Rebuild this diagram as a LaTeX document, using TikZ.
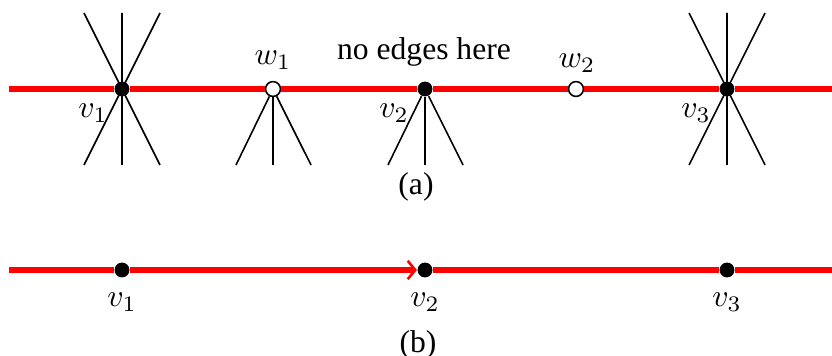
\documentclass[tikz,border=0pt]{standalone}
\usepackage[no-math]{fontspec}
\setmainfont{Liberation Serif}
\usetikzlibrary{arrows.meta}
\begin{document}
\begin{tikzpicture}[x=0.3165pt,y=-0.3165pt,
  font=\fontsize{10}{12}\selectfont,
  redline/.style={draw=red, line width=1.6pt},
  spoke/.style={draw=black, line width=0.5pt},
  bdot/.style={circle, fill=black, inner sep=0pt, minimum size=4.7pt},
  wdot/.style={circle, draw=black, fill=white, line width=0.5pt, inner sep=0pt, minimum size=4.7pt},
  lbl/.style={inner sep=0pt}]
\useasboundingbox (0,0) rectangle (832,356);
% ---------- (a) ----------
\coordinate (La) at (9,89);
\coordinate (Ra) at (832,89);
\node[bdot] (v1) at (122,89) {};
\node[wdot] (w1) at (273,89) {};
\node[bdot] (v2) at (425,89) {};
\node[wdot] (w2) at (576,89) {};
\node[bdot] (v3) at (727,89) {};
\draw[redline] (La) -- (v1) -- (w1) -- (v2) -- (w2) -- (v3) -- (Ra);
% spokes at v1
\coordinate (v1a) at (84,13); \coordinate (v1b) at (160,165);
\coordinate (v1c) at (160,13); \coordinate (v1d) at (84,165);
\coordinate (v1e) at (122,13); \coordinate (v1f) at (122,165);
\draw[spoke] (v1a) -- (v1b) (v1c) -- (v1d) (v1e) -- (v1f);
% spokes at v3
\coordinate (v3a) at (689,13); \coordinate (v3b) at (765,165);
\coordinate (v3c) at (765,13); \coordinate (v3d) at (689,165);
\coordinate (v3e) at (727,13); \coordinate (v3f) at (727,165);
\draw[spoke] (v3a) -- (v3b) (v3c) -- (v3d) (v3e) -- (v3f);
% spokes at w1
\coordinate (w1a) at (236,165); \coordinate (w1b) at (273,165); \coordinate (w1c) at (311,165);
\draw[spoke] (w1) -- (w1a) (w1) -- (w1b) (w1) -- (w1c);
% spokes at v2
\coordinate (v2a) at (388,165); \coordinate (v2b) at (425,165); \coordinate (v2c) at (463,165);
\draw[spoke] (v2) -- (v2a) (v2) -- (v2b) (v2) -- (v2c);
% labels
\node[lbl] (lv1) at (93,113) {$v_1$};
\node[lbl] (lw1) at (273,60) {$w_1$};
\node[lbl] (lv2) at (394,113) {$v_2$};
\node[lbl] (lw2) at (577,63) {$w_2$};
\node[lbl] (lv3) at (696,113) {$v_3$};
\node[lbl] (note) at (424,52) {no edges here};
\node[lbl] (capa) at (416,187) {(a)};
% ---------- (b) ----------
\coordinate (Lb) at (9,270);
\coordinate (Rb) at (832,270);
\node[bdot] (u1) at (122,270) {};
\node[bdot] (u2) at (425,270) {};
\node[bdot] (u3) at (727,270) {};
\draw[redline] (Lb) -- (u1);
\draw[redline, -{Straight Barb[length=2.4pt,width=5.8pt,line width=0.8pt]}] (u1) -- (u2);
\draw[redline] (u2) -- (u3) -- (Rb);
\node[lbl] (lu1) at (122,302) {$v_1$};
\node[lbl] (lu2) at (425,302) {$v_2$};
\node[lbl] (lu3) at (727,302) {$v_3$};
\node[lbl] (capb) at (418,345) {(b)};
\end{tikzpicture}
\end{document}
